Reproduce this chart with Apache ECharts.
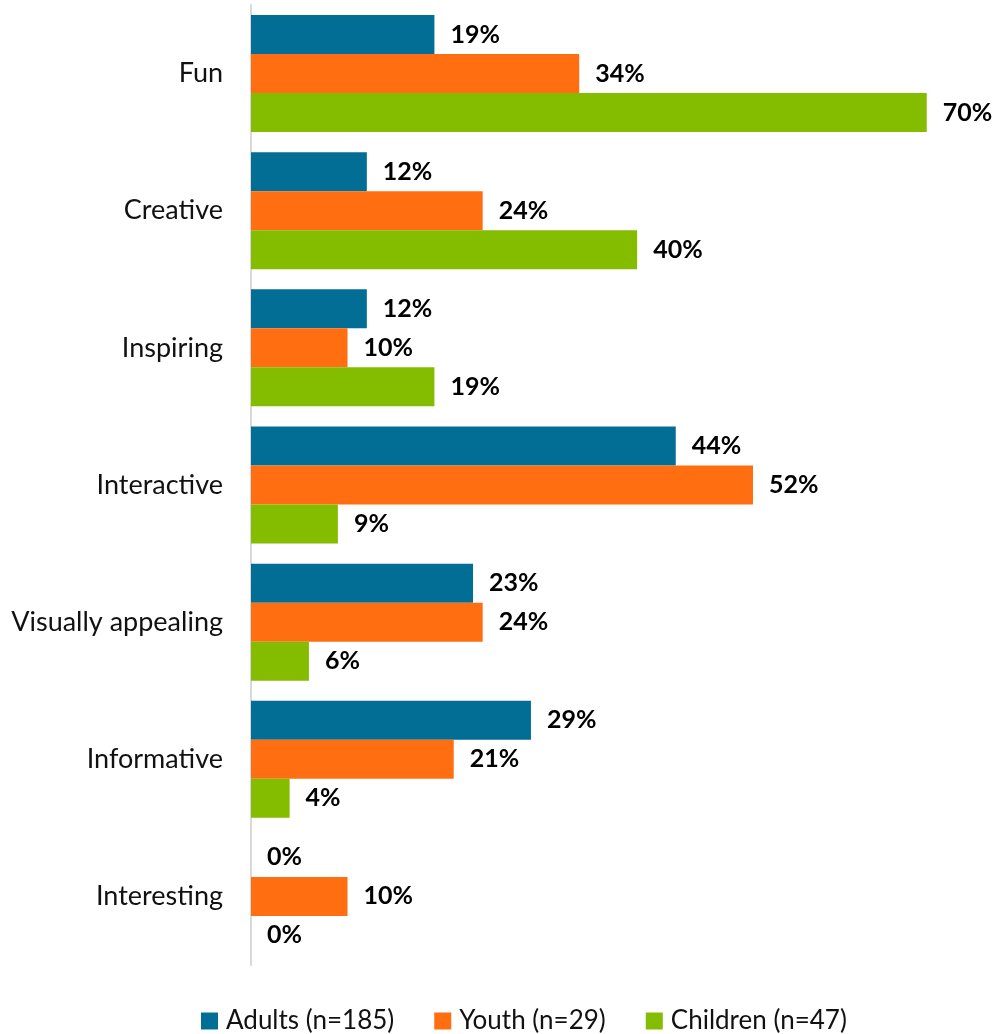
<!DOCTYPE html>
<html>
<head>
<meta charset="utf-8">
<script src="https://cdn.jsdelivr.net/npm/echarts@6/dist/echarts.min.js"></script>
<style>
  html, body { margin: 0; padding: 0; background: #fff; }
  #chart { width: 996px; height: 1034px; }
</style>
</head>
<body>
<div id="chart"></div>
<script>
// Survey responses by audience group (percent choosing each descriptor)
const categories = ['Fun', 'Creative', 'Inspiring', 'Interactive', 'Visually appealing', 'Informative', 'Interesting'];
const seriesNames = ['Adults (n=185)', 'Youth (n=29)', 'Children (n=47)'];
const adults   = [19, 12, 12, 44, 23, 29, 0];
const youth    = [34, 24, 10, 52, 24, 21, 10];
const children = [70, 40, 19, 9, 6, 4, 0];
const colors = ['#036e95', '#ff6e10', '#84bc00'];

const FONT = 'Lato, "Open Sans", sans-serif';

function barSeries(name, values, color) {
  return {
    name: name,
    type: 'bar',
    data: values,
    barGap: '0%',
    barCategoryGap: '14.7%',
    itemStyle: { color: color },
    label: {
      show: true,
      position: 'right',
      distance: 16,
      formatter: p => p.value + '%',
      fontFamily: FONT,
      fontWeight: 'bold',
      fontSize: 25,
      color: '#000'
    }
  };
}

const chart = echarts.init(document.getElementById('chart'), null, { renderer: 'canvas' });
chart.setOption({
  animation: false,
  backgroundColor: '#fff',
  grid: { left: 251, right: 21, top: 5, bottom: 69, containLabel: false },
  xAxis: {
    type: 'value',
    min: 0,
    max: 75,
    show: false
  },
  yAxis: {
    type: 'category',
    data: categories,
    inverse: true,
    axisLine: { show: true, lineStyle: { color: '#d9d9d9', width: 2 } },
    axisTick: { show: false },
    axisLabel: {
      margin: 28,
      fontFamily: FONT,
      fontSize: 27,
      color: '#111'
    }
  },
  legend: {
    data: seriesNames,
    left: 196,
    top: 1003,
    icon: 'rect',
    itemWidth: 17,
    itemHeight: 17,
    itemGap: 40,
    textStyle: {
      fontFamily: FONT,
      fontSize: 26,
      color: '#111',
      padding: [0, 0, 0, 3]
    }
  },
  series: [
    barSeries(seriesNames[0], adults, colors[0]),
    barSeries(seriesNames[1], youth, colors[1]),
    barSeries(seriesNames[2], children, colors[2])
  ]
});
</script>
</body>
</html>
